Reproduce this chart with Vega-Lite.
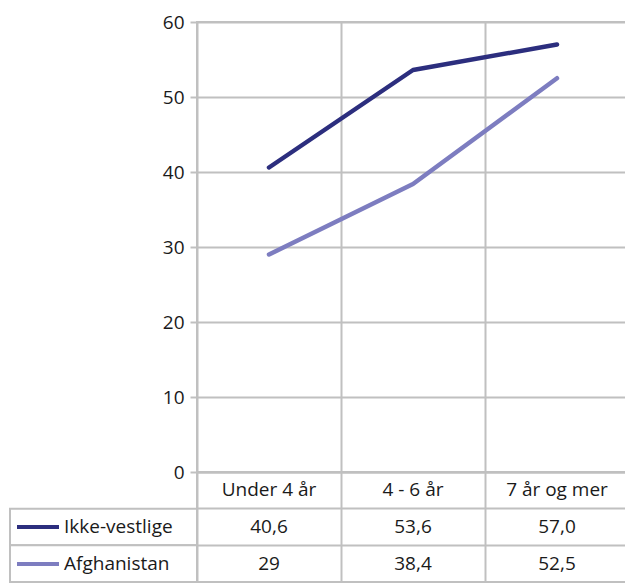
{
  "$schema": "https://vega.github.io/schema/vega-lite/v6.json",
  "background": "white",
  "padding": {"left": 9, "top": 12, "right": 0, "bottom": 0},
  "columns": 2,
  "spacing": 0,
  "bounds": "flush",
  "datasets": {
    "linjer": [
      {"kat": "Under 4 år", "serie": "Ikke-vestlige", "verdi": 40.6, "tekst": "40,6"},
      {"kat": "4 - 6 år", "serie": "Ikke-vestlige", "verdi": 53.6, "tekst": "53,6"},
      {"kat": "7 år og mer", "serie": "Ikke-vestlige", "verdi": 57.0, "tekst": "57,0"},
      {"kat": "Under 4 år", "serie": "Afghanistan", "verdi": 29, "tekst": "29"},
      {"kat": "4 - 6 år", "serie": "Afghanistan", "verdi": 38.4, "tekst": "38,4"},
      {"kat": "7 år og mer", "serie": "Afghanistan", "verdi": 52.5, "tekst": "52,5"}
    ],
    "kategorier": [{"kat": "Under 4 år"}, {"kat": "4 - 6 år"}, {"kat": "7 år og mer"}],
    "serier": [{"serie": "Ikke-vestlige"}, {"serie": "Afghanistan"}]
  },
  "concat": [
    {
      "width": 187,
      "height": 450,
      "view": {"stroke": null},
      "data": {"name": "serier"},
      "mark": {"type": "text", "opacity": 0},
      "encoding": {"text": {"value": ""}}
    },
    {
      "width": 432,
      "height": 450,
      "data": {"name": "linjer"},
      "mark": {"type": "line", "strokeWidth": 4.5, "strokeCap": "round", "strokeJoin": "round"},
      "encoding": {
        "x": {
          "field": "kat", "type": "nominal", "sort": null,
          "scale": {"type": "band", "domain": ["Under 4 år", "4 - 6 år", "7 år og mer"], "paddingInner": 0, "paddingOuter": 0},
          "axis": {"grid": true, "bandPosition": 0, "labels": false, "ticks": false, "domain": false, "title": null}
        },
        "y": {
          "field": "verdi", "type": "quantitative",
          "scale": {"domain": [0, 60], "nice": false},
          "axis": {"values": [0, 10, 20, 30, 40, 50, 60], "title": null, "domain": false, "grid": true, "ticks": true, "tickSize": 7, "labelPadding": 6}
        },
        "color": {
          "field": "serie", "type": "nominal",
          "scale": {"domain": ["Ikke-vestlige", "Afghanistan"], "range": ["#2c2e7e", "#7d7dc0"]},
          "legend": null
        }
      }
    },
    {
      "width": 187,
      "height": 110,
      "view": {"stroke": null},
      "data": {"name": "serier"},
      "layer": [
        {
          "mark": {"type": "rect", "fill": "white", "stroke": "#c0c0c0", "strokeWidth": 2},
          "encoding": {
            "y": {
              "field": "serie", "type": "nominal", "sort": null,
              "scale": {"type": "band", "domain": ["hdr", "Ikke-vestlige", "Afghanistan"], "paddingInner": 0, "paddingOuter": 0},
              "axis": null
            }
          }
        },
        {
          "mark": {"type": "line", "strokeWidth": 4},
          "encoding": {
            "y": {"field": "serie", "type": "nominal", "sort": null, "scale": {"type": "band"}, "axis": null},
            "color": {
              "field": "serie", "type": "nominal",
              "scale": {"domain": ["Ikke-vestlige", "Afghanistan"], "range": ["#2c2e7e", "#7d7dc0"]},
              "legend": {
                "orient": "bottom-left", "offset": 7, "title": null, "padding": 0,
                "symbolType": "stroke", "symbolSize": 2500, "symbolStrokeWidth": 4, "symbolOpacity": 1, "symbolOffset": -10,
                "clipHeight": 22, "rowPadding": 15,
                "labelFont": "Open Sans", "labelFontSize": 19, "labelColor": "#1a1a1a", "labelOffset": 3
              }
            }
          }
        }
      ]
    },
    {
      "width": 432,
      "height": 110,
      "layer": [
        {
          "data": {"name": "kategorier"},
          "mark": {"type": "text", "font": "Open Sans", "fontSize": 19, "color": "#1a1a1a"},
          "encoding": {
            "x": {
              "field": "kat", "type": "nominal", "sort": null,
              "scale": {"type": "band", "domain": ["Under 4 år", "4 - 6 år", "7 år og mer"], "paddingInner": 0, "paddingOuter": 0},
              "axis": {"grid": true, "bandPosition": 0, "labels": false, "ticks": false, "domain": false, "title": null}
            },
            "y": {
              "datum": "hdr", "type": "nominal",
              "scale": {"type": "band", "domain": ["hdr", "Ikke-vestlige", "Afghanistan"], "paddingInner": 0, "paddingOuter": 0},
              "axis": {"grid": true, "bandPosition": 0, "labels": false, "ticks": false, "domain": false, "title": null}
            },
            "text": {"field": "kat"}
          }
        },
        {
          "data": {"name": "linjer"},
          "mark": {"type": "text", "font": "Open Sans", "fontSize": 19, "color": "#1a1a1a"},
          "encoding": {
            "x": {"field": "kat", "type": "nominal", "sort": null},
            "y": {"field": "serie", "type": "nominal", "sort": null},
            "text": {"field": "tekst"}
          }
        }
      ]
    }
  ],
  "resolve": {"scale": {"color": "independent"}, "legend": {"color": "independent"}},
  "config": {
    "font": "Open Sans",
    "view": {"stroke": "#c0c0c0", "strokeWidth": 2},
    "axis": {
      "gridColor": "#c0c0c0", "gridWidth": 2, "gridOpacity": 1,
      "tickColor": "#c0c0c0", "tickWidth": 2,
      "labelFont": "Open Sans", "labelFontSize": 19, "labelColor": "#1a1a1a"
    }
  }
}
